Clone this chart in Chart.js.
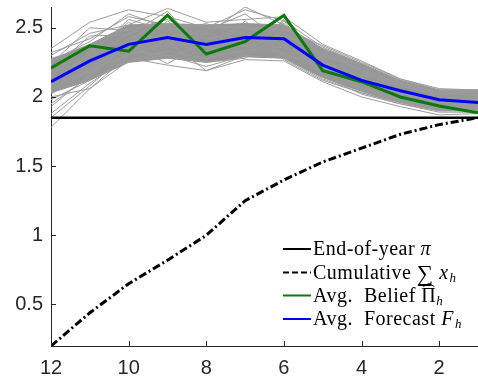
<!DOCTYPE html>
<html lang="en">
  <head>
    <meta charset="UTF-8" />
    <title>Beliefs and forecasts</title>
    <script src="https://cdn.jsdelivr.net/npm/chart.js"></script>
    <style>
      html, body { margin: 0; padding: 0; background: #fff; }
      .wrap { width: 478px; height: 378px; position: relative; }
    </style>
  </head>
  <body>
    <div class="wrap"><canvas id="chart"></canvas></div>
    <script>
      // months left in the year
      const hours = [12, 11, 10, 9, 8, 7, 6, 5, 4, 3, 2, 1];
      const xTicks = [12, 10, 8, 6, 4, 2];
      const yTicks = [0.5, 1, 1.5, 2, 2.5];

      const endOfYear = [1.85, 1.85, 1.85, 1.85, 1.85, 1.85, 1.85, 1.85, 1.85, 1.85, 1.85, 1.85];
      const cumulative = [0.2, 0.44, 0.65, 0.82, 1.0, 1.25, 1.4, 1.53, 1.63, 1.73, 1.8, 1.85];
      const avgBelief = [2.21, 2.37, 2.33, 2.59, 2.31, 2.4, 2.59, 2.19, 2.11, 2.0, 1.935, 1.885];
      const avgForecast = [2.11, 2.26, 2.38, 2.43, 2.38, 2.43, 2.42, 2.23, 2.12, 2.045, 1.98, 1.96];

      // dense core of the simulated paths
      const bandHigh = [2.27, 2.38, 2.52, 2.53, 2.52, 2.53, 2.52, 2.35, 2.24, 2.12, 2.05, 2.05];
      const bandLow = [2.03, 2.12, 2.25, 2.28, 2.25, 2.29, 2.28, 2.14, 2.04, 1.96, 1.9, 1.9];

      // individual simulated paths
      const sims = [
        [2.35, 2.54, 2.63, 2.58, 2.5, 2.63, 2.55, 2.36, 2.24, 2.12, 2.05, 2.05],
        [1.78, 2.06, 2.26, 2.3, 2.22, 2.3, 2.28, 2.13, 2.03, 1.95, 1.89, 1.89],
        [2.3, 2.46, 2.52, 2.64, 2.54, 2.56, 2.58, 2.38, 2.26, 2.13, 2.06, 2.05],
        [1.88, 2.1, 2.28, 2.23, 2.19, 2.27, 2.26, 2.11, 2.0, 1.93, 1.87, 1.88],
        [2.26, 2.4, 2.6, 2.5, 2.45, 2.65, 2.52, 2.3, 2.2, 2.09, 2.03, 2.02],
        [2.0, 2.06, 2.3, 2.4, 2.19, 2.3, 2.55, 2.2, 2.08, 1.98, 1.92, 1.92],
        [2.2, 2.44, 2.45, 2.62, 2.3, 2.4, 2.58, 2.18, 2.12, 2.01, 1.94, 1.9],
        [1.95, 2.15, 2.38, 2.24, 2.4, 2.52, 2.29, 2.26, 2.1, 2.04, 1.96, 1.95],
        [2.12, 2.3, 2.56, 2.48, 2.53, 2.45, 2.5, 2.34, 2.22, 2.08, 2.0, 1.99],
        [2.05, 2.22, 2.35, 2.6, 2.36, 2.32, 2.42, 2.16, 2.05, 1.97, 1.91, 1.91],
        [2.28, 2.35, 2.4, 2.44, 2.48, 2.6, 2.4, 2.27, 2.16, 2.1, 2.04, 2.04],
        [1.98, 2.12, 2.26, 2.33, 2.28, 2.34, 2.36, 2.24, 2.14, 2.02, 1.97, 1.96],
        [2.15, 2.38, 2.5, 2.38, 2.5, 2.5, 2.46, 2.32, 2.18, 2.06, 1.99, 2.0],
        [2.08, 2.18, 2.42, 2.52, 2.3, 2.38, 2.32, 2.2, 2.07, 1.99, 1.93, 1.93],
        [1.85, 2.08, 2.33, 2.3, 2.25, 2.28, 2.48, 2.15, 2.02, 1.95, 1.9, 1.9],
        [2.24, 2.5, 2.48, 2.56, 2.42, 2.48, 2.53, 2.28, 2.24, 2.11, 2.03, 2.03],
        [2.18, 2.26, 2.37, 2.46, 2.26, 2.55, 2.3, 2.22, 2.1, 2.03, 1.95, 1.94],
        [2.1, 2.32, 2.54, 2.36, 2.47, 2.36, 2.44, 2.35, 2.19, 2.08, 2.02, 2.01],
        [2.02, 2.2, 2.3, 2.55, 2.33, 2.42, 2.38, 2.19, 2.06, 1.98, 1.92, 1.92],
        [2.22, 2.28, 2.46, 2.28, 2.4, 2.3, 2.56, 2.25, 2.15, 2.05, 1.98, 1.98],
        [1.93, 2.16, 2.4, 2.42, 2.36, 2.47, 2.27, 2.12, 2.03, 1.96, 1.91, 1.91],
        [2.32, 2.42, 2.58, 2.52, 2.52, 2.5, 2.49, 2.37, 2.25, 2.13, 2.05, 2.04]
      ];

      const pts = (ys) => hours.map((h, i) => ({ x: h, y: ys[i] }));
      const axisColor = "#262626";
      const serif = '"Liberation Serif", "DejaVu Serif", serif';
      const sans = '"Liberation Sans", Arial, sans-serif';

      const datasets = [
        { data: pts(avgForecast), borderColor: "#0000ff", borderWidth: 3, order: 0 },
        { data: pts(avgBelief), borderColor: "#0a7a0a", borderWidth: 3, order: 1 },
        { data: pts(cumulative), borderColor: "#000", borderWidth: 3, borderDash: [8, 3, 2, 3], order: 2 },
        { data: pts(endOfYear), borderColor: "#000", borderWidth: 2.5, order: 3 },
      ];
      sims.forEach((s) => {
        datasets.push({ data: pts(s), borderColor: "#9c9c9c", borderWidth: 1, order: 5 });
      });
      datasets.push({ data: pts(bandHigh), borderColor: "#929292", borderWidth: 1, fill: "+1", backgroundColor: "#969696", order: 6 });
      datasets.push({ data: pts(bandLow), borderColor: "#929292", borderWidth: 1, order: 7 });
      datasets.forEach((d) => { d.pointRadius = 0; d.tension = 0; });

      // inward tick marks, MATLAB style
      const tickMarks = {
        id: "tickMarks",
        afterDatasetsDraw(chart) {
          const { ctx, chartArea, scales } = chart;
          ctx.save();
          ctx.strokeStyle = axisColor;
          ctx.lineWidth = 1;
          ctx.beginPath();
          xTicks.forEach((v) => {
            const x = Math.round(scales.x.getPixelForValue(v)) + 0.5;
            ctx.moveTo(x, chartArea.bottom);
            ctx.lineTo(x, chartArea.bottom - 5);
          });
          yTicks.forEach((v) => {
            const y = Math.round(scales.y.getPixelForValue(v)) + 0.5;
            ctx.moveTo(chartArea.left, y);
            ctx.lineTo(chartArea.left + 5, y);
          });
          ctx.stroke();
          ctx.restore();
        },
      };

      const legendRows = [
        { color: "#000", dash: [], parts: [["End-of-year ", ""], ["π", "italic"]] },
        { color: "#000", dash: [6, 3], parts: [["Cumulative ", ""], ["∑", "sum"], [" ", ""], ["x", "italic"], ["h", "sub"]] },
        { color: "#0a7a0a", dash: [], parts: [["Avg.", ""], ["", "gap"], ["Belief ", ""], ["Π", "hat"], ["h", "sub"]] },
        { color: "#0000ff", dash: [], parts: [["Avg.", ""], ["", "gap"], ["Forecast ", ""], ["F", "italic"], ["h", "sub"]] },
      ];
      const legendY = [249, 272.5, 295.5, 319];

      const mathLegend = {
        id: "mathLegend",
        afterDraw(chart) {
          const ctx = chart.ctx;
          ctx.save();
          legendRows.forEach((row, i) => {
            const y = legendY[i];
            ctx.strokeStyle = row.color;
            ctx.lineWidth = 2;
            ctx.setLineDash(row.dash);
            ctx.beginPath();
            ctx.moveTo(283, y);
            ctx.lineTo(311, y);
            ctx.stroke();
            ctx.setLineDash([]);
            let x = 313;
            ctx.fillStyle = "#000";
            ctx.textBaseline = "alphabetic";
            ctx.letterSpacing = "0.5px";
            const base = y + 6;
            row.parts.forEach(([t, kind]) => {
              if (kind === "gap") { x += 11; return; }
              let font = "20px " + serif;
              let dy = 0;
              if (kind === "italic") font = "italic 20px " + serif;
              if (kind === "sub") { font = "italic 13px " + serif; dy = 3; }
              if (kind === "sum") { font = "23px " + serif; dy = 2; }
              ctx.font = font;
              ctx.fillText(t, x, base + dy);
              const w = ctx.measureText(t).width;
              if (kind === "hat") {
                ctx.strokeStyle = "#000";
                ctx.lineWidth = 1;
                ctx.beginPath();
                ctx.moveTo(x + 2, base - 15);
                ctx.lineTo(x + w / 2, base - 18);
                ctx.lineTo(x + w - 2, base - 15);
                ctx.stroke();
              }
              x += w + (kind === "italic" ? 1 : 0);
            });
          });
          ctx.restore();
        },
      };

      new Chart(document.getElementById("chart"), {
        type: "line",
        data: { datasets },
        options: {
          responsive: true,
          maintainAspectRatio: false,
          animation: false,
          layout: { padding: { top: 7, right: 0, left: 0, bottom: 0 } },
          plugins: { legend: { display: false }, tooltip: { enabled: false } },
          scales: {
            x: {
              type: "linear",
              reverse: true,
              min: 1,
              max: 12,
              afterBuildTicks: (s) => { s.ticks = xTicks.map((v) => ({ value: v })); },
              afterFit: (s) => { s.height = 32; s.paddingLeft = 0; s.paddingRight = 0; },
              grid: { display: false, drawTicks: false },
              border: { display: true, color: axisColor, width: 1 },
              ticks: {
                color: axisColor,
                padding: 10,
                maxRotation: 0,
                callback: (v) => String(v),
                font: { family: sans, size: 20 },
              },
            },
            y: {
              min: 0.2,
              max: 2.65,
              afterBuildTicks: (s) => { s.ticks = yTicks.map((v) => ({ value: v })); },
              afterFit: (s) => { s.width = 51; s.paddingTop = 0; s.paddingBottom = 0; },
              grid: { display: false, drawTicks: false },
              border: { display: true, color: axisColor, width: 1 },
              ticks: {
                color: axisColor,
                padding: 8,
                callback: (v) => String(v),
                font: { family: sans, size: 20 },
              },
            },
          },
        },
        plugins: [tickMarks, mathLegend],
      });
    </script>
  </body>
</html>
